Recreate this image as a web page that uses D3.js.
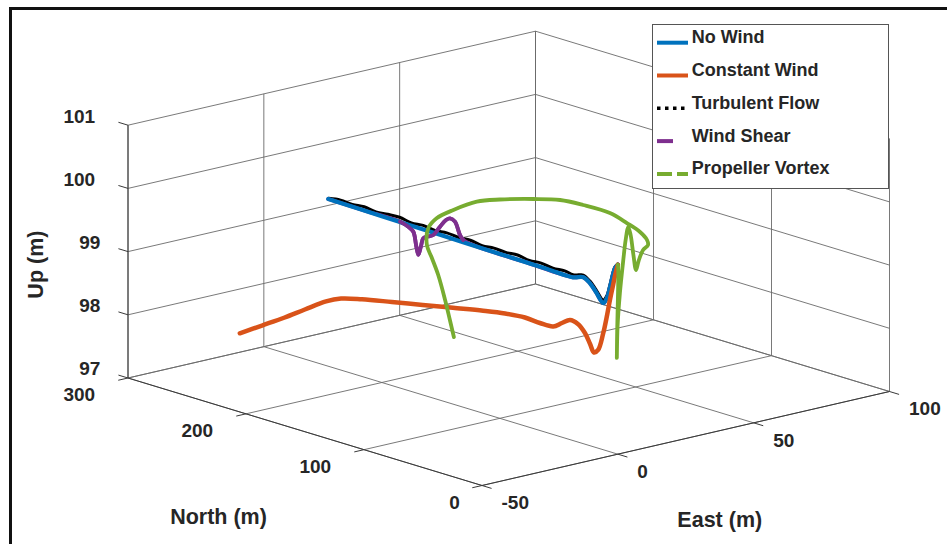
<!DOCTYPE html>
<html>
<head>
<meta charset="utf-8">
<script src="https://cdn.jsdelivr.net/npm/d3@7"></script>
<style>
  html, body { margin: 0; padding: 0; background: #fff; }
  svg { display: block; }
  text { font-family: "Liberation Sans", Arial, Helvetica, sans-serif; font-weight: bold; fill: #262626; }
</style>
</head>
<body>
<svg id="chart" width="947" height="544"></svg>
<script>
// Axis ticks
const eastTicks = [-50, 0, 50, 100];
const northTicks = [0, 100, 200, 300];
const upTicks = [97, 98, 99, 100, 101];

const seriesNames = ["No Wind", "Constant Wind", "Turbulent Flow", "Wind Shear", "Propeller Vortex"];

// No Wind trajectory (m)
const noWindN = [245.4, 200, 150, 100, 60, 38, 29.3, 23.6, 18.5, 12.3, 9.2, 6.6, 2.4, 0];
const noWindE = [0, 0, 0, 0, 0, 0, 0, 0, 0, 0, 0, 0, 0, 0];
const noWindU = [99.646, 99.632, 99.617, 99.602, 99.590, 99.583, 99.633, 99.570, 99.460, 99.320, 99.420, 99.610, 99.930, 100.0];

// Constant Wind trajectory (m)
const constN = [244.6, 230.2, 215.9, 202.4, 188.8, 179.1, 165.5, 146.1, 126.2, 106.6, 87.2, 73.0, 60.1, 50.4, 41.9, 36.1, 30.9, 25.8, 21.2, 18.0, 15.4, 12.8, 9.4, 7.0, 5.1, 3.1, 1.8, 0];
const constE = [-32.9, -31.0, -29.1, -27.3, -25.4, -24.1, -22.3, -19.7, -17.0, -14.4, -11.7, -9.8, -8.1, -6.8, -5.6, -4.9, -4.2, -3.5, -2.9, -2.4, -2.1, -1.7, -1.3, -0.9, -0.7, -0.4, -0.2, 0];
const constU = [97.852, 98.038, 98.223, 98.412, 98.599, 98.685, 98.733, 98.775, 98.815, 98.854, 98.891, 98.909, 98.902, 98.857, 98.838, 98.919, 98.989, 98.948, 98.825, 98.665, 98.542, 98.593, 98.872, 99.172, 99.417, 99.663, 99.827, 100.0];

// Turbulent Flow trajectory (m)
const turbN = [245, 235, 225, 215, 205, 195, 185, 175, 165, 155, 145, 135, 125, 115, 105, 95, 85, 75, 65, 55, 45, 38, 33, 29.3, 23.6, 18.5, 12.3, 9.2, 6.6, 2.4, 0];
const turbE = [0, 0, 0, 0, 0, 0, 0, 0, 0, 0, 0, 0, 0, 0, 0, 0, 0, 0, 0, 0, 0, 0, 0, 0, 0, 0, 0, 0, 0, 0, 0];
const turbU = [99.660, 99.688, 99.675, 99.695, 99.672, 99.690, 99.700, 99.668, 99.684, 99.660, 99.679, 99.664, 99.676, 99.648, 99.665, 99.654, 99.670, 99.640, 99.655, 99.632, 99.645, 99.625, 99.650, 99.668, 99.605, 99.500, 99.370, 99.460, 99.650, 99.950, 100.0];

// Wind Shear trajectory (m)
const shearN = [245.4, 215, 184.6, 177.6, 173.3, 171.0, 169.1, 166.8, 164.9, 160.9, 156.4, 150.7, 145.6, 142.2, 138.0, 133.8, 131.0, 120, 80, 38, 29.3, 23.6, 18.5, 12.3, 9.2, 6.6, 2.4, 0];
const shearE = [0, 0, 0, 0, 0, 0, 0, 0, 0, 0, 0, 0, 0, 0, 0, 0, 0, 0, 0, 0, 0, 0, 0, 0, 0, 0, 0, 0];
const shearU = [99.646, 99.637, 99.632, 99.592, 99.537, 99.340, 99.193, 99.348, 99.481, 99.532, 99.581, 99.745, 99.880, 99.926, 99.896, 99.710, 99.646, 99.608, 99.596, 99.583, 99.633, 99.570, 99.460, 99.320, 99.420, 99.610, 99.930, 100.0];

// Propeller Vortex trajectory (m)
const vortexN = [150, 149, 148, 146, 144, 142, 139, 134, 126, 114, 102, 85, 71, 58, 44, 34, 27, 22, 20, 18, 16.5, 15, 13.5, 11.5, 10.5, 9.5, 8.5, 7, 6, 5, 4, 2.5, 1, 0];
const vortexE = [4.8, 2.9, 0.7, -2.7, -5.9, -8.6, -9.4, -8.5, -5.8, -2.4, 0.9, 5.7, 9.6, 12.4, 16.2, 18.1, 19.9, 20.3, 19.8, 17.1, 14.8, 13.2, 11.6, 9.7, 8.4, 7.0, 5.7, 3.8, 2.5, 1.8, 1.5, 1.1, 0.6, 0];
const vortexU = [97.955, 98.249, 98.594, 99.034, 99.346, 99.590, 99.879, 100.056, 100.207, 100.372, 100.442, 100.499, 100.524, 100.491, 100.405, 100.285, 100.165, 100.063, 100.000, 99.959, 99.816, 99.698, 99.960, 100.307, 100.451, 100.266, 99.967, 99.472, 98.953, 98.476, 98.927, 99.414, 99.871, 100.0];

const colors = {
  blue: "#0072BD", orange: "#D95319", black: "#000000", purple: "#7E2F8E", green: "#77AC30"
};

const svg = d3.select("#chart");

// Frame around the figure
svg.append("path")
  .attr("d", "M10.5,544 L10.5,8.5 L947,8.5")
  .attr("fill", "none").attr("stroke", "#111").attr("stroke-width", 3);

// Normalised axis scales
const sE = d3.scaleLinear().domain([-50, 100]).range([0, 1]);
const sN = d3.scaleLinear().domain([0, 300]).range([0, 1]);
const sU = d3.scaleLinear().domain([97, 101]).range([0, 1]);

// Orthographic projection of the plot box (East, North, Up)
const origin = [482, 485.5];
const eVec = [407.5, -94];
const nVec = [-354, -107.5];
const uVec = [0, -252.8];
function proj(E, N, U) {
  const e = sE(E), n = sN(N), u = sU(U);
  return [origin[0] + e * eVec[0] + n * nVec[0] + u * uVec[0],
          origin[1] + e * eVec[1] + n * nVec[1] + u * uVec[1]];
}
function unit(v) { const l = Math.hypot(v[0], v[1]); return [v[0] / l, v[1] / l]; }

const [eMin, eMax] = sE.domain();
const [nMin, nMax] = sN.domain();
const [uMin, uMax] = sU.domain();

// Grid lines on the back walls and the floor
const gridSegs = [];
eastTicks.forEach(E => {
  gridSegs.push([proj(E, nMax, uMin), proj(E, nMax, uMax)]);
  gridSegs.push([proj(E, nMin, uMin), proj(E, nMax, uMin)]);
});
northTicks.forEach(N => {
  gridSegs.push([proj(eMax, N, uMin), proj(eMax, N, uMax)]);
  gridSegs.push([proj(eMin, N, uMin), proj(eMax, N, uMin)]);
});
upTicks.forEach(U => {
  gridSegs.push([proj(eMin, nMax, U), proj(eMax, nMax, U)]);
  gridSegs.push([proj(eMax, nMin, U), proj(eMax, nMax, U)]);
});
svg.append("g").selectAll("line").data(gridSegs).join("line")
  .attr("x1", d => d[0][0]).attr("y1", d => d[0][1])
  .attr("x2", d => d[1][0]).attr("y2", d => d[1][1])
  .attr("stroke", "#6a6a6a").attr("stroke-width", 0.9);

// Axis lines
const axisSegs = [
  [proj(eMin, nMin, uMin), proj(eMax, nMin, uMin)],
  [proj(eMin, nMin, uMin), proj(eMin, nMax, uMin)],
  [proj(eMin, nMax, uMin), proj(eMin, nMax, uMax)]
];
svg.append("g").selectAll("line").data(axisSegs).join("line")
  .attr("x1", d => d[0][0]).attr("y1", d => d[0][1])
  .attr("x2", d => d[1][0]).attr("y2", d => d[1][1])
  .attr("stroke", "#3a3a3a").attr("stroke-width", 1);

// Tick marks
const tickLen = 10;
const nDir = unit(nVec), eDir = unit(eVec);
const tickSegs = [];
upTicks.forEach(U => { const p = proj(eMin, nMax, U); tickSegs.push([p, [p[0] + nDir[0] * tickLen, p[1] + nDir[1] * tickLen]]); });
northTicks.forEach(N => { const p = proj(eMin, N, uMin); tickSegs.push([p, [p[0] - eDir[0] * tickLen, p[1] - eDir[1] * tickLen]]); });
eastTicks.forEach(E => { const p = proj(E, nMin, uMin); tickSegs.push([p, [p[0] - nDir[0] * tickLen, p[1] - nDir[1] * tickLen]]); });
svg.append("g").selectAll("line").data(tickSegs).join("line")
  .attr("x1", d => d[0][0]).attr("y1", d => d[0][1])
  .attr("x2", d => d[1][0]).attr("y2", d => d[1][1])
  .attr("stroke", "#3a3a3a").attr("stroke-width", 1);

// Tick labels
const tickFont = 19;
const tickG = svg.append("g").style("font-size", tickFont + "px");
function leftLabel(txt, p, dy) {
  const t = tickG.append("text").text(txt).attr("text-anchor", "middle").attr("dy", "0.36em");
  const w = t.node().getComputedTextLength();
  t.attr("x", p[0] - 17 - w).attr("y", p[1] + dy);
}
upTicks.forEach(U => leftLabel(String(U), proj(eMin, nMax, U), -9.5));
northTicks.forEach(N => leftLabel(String(N), proj(eMin, N, uMin), 16.5));
eastTicks.forEach(E => {
  const p = proj(E, nMin, uMin);
  tickG.append("text").text(String(E)).attr("text-anchor", "start")
    .attr("x", p[0] + 19.5).attr("y", p[1] + 17).attr("dy", "0.36em");
});

// Axis titles
const labelG = svg.append("g").style("font-size", "21.5px");
const nMid = proj(eMin, (nMin + nMax) / 2, uMin);
labelG.append("text").text("North (m)").attr("text-anchor", "middle")
  .attr("x", nMid[0] - 86.5).attr("y", nMid[1] + 85).attr("dy", "0.36em");
const eMid = proj((eMin + eMax) / 2, nMin, uMin);
labelG.append("text").text("East (m)").attr("text-anchor", "middle")
  .attr("x", eMid[0] + 34).attr("y", eMid[1] + 80.5).attr("dy", "0.36em");
const uMid = proj(eMin, nMax, (uMin + uMax) / 2);
labelG.append("text").text("Up (m)").attr("text-anchor", "middle")
  .attr("transform", `translate(${uMid[0] - 93},${uMid[1] + 13}) rotate(-90)`)
  .attr("dy", "0.36em");

// Trajectories
const zip3 = (N, E, U) => N.map((n, i) => ({ N: n, E: E[i], U: U[i] }));
const line = d3.line().x(d => proj(d.E, d.N, d.U)[0]).y(d => proj(d.E, d.N, d.U)[1])
  .curve(d3.curveCatmullRom.alpha(0.5));

const traj = svg.append("g").attr("fill", "none").attr("stroke-linejoin", "round").attr("stroke-linecap", "round");
const noWind = zip3(noWindN, noWindE, noWindU);
const constant = zip3(constN, constE, constU);
const turbulent = zip3(turbN, turbE, turbU);
const shear = zip3(shearN, shearE, shearU);
const vortex = zip3(vortexN, vortexE, vortexU);

traj.append("path").attr("d", line(turbulent)).attr("stroke", colors.black).attr("stroke-width", 3);
traj.append("path").attr("d", line(shear)).attr("stroke", colors.purple).attr("stroke-width", 3.8);
traj.append("path").attr("d", line(noWind)).attr("stroke", colors.blue).attr("stroke-width", 4.2);
// the shear oscillation sits in front of the no-wind path
traj.append("path").attr("d", line(shear.slice(2, 17))).attr("stroke", colors.purple).attr("stroke-width", 3.8);
traj.append("path").attr("d", line(constant)).attr("stroke", colors.orange).attr("stroke-width", 4.5);
traj.append("path").attr("d", line(vortex)).attr("stroke", colors.green).attr("stroke-width", 3.8);

// Legend
const legend = svg.append("g");
legend.append("rect").attr("x", 652.5).attr("y", 24.5).attr("width", 236).attr("height", 164)
  .attr("fill", "#fff").attr("stroke", "#555").attr("stroke-width", 1);
const legendStyles = [
  { color: colors.blue, dash: null, x2: 688, w: 4 },
  { color: colors.orange, dash: null, x2: 688, w: 4 },
  { color: colors.black, dash: "3.5,4.5", x2: 688, w: 3.5 },
  { color: colors.purple, dash: null, x2: 673, w: 4 },
  { color: colors.green, dash: "15,5", x2: 688, w: 4 }
];
seriesNames.forEach((name, i) => {
  const base = 43.2 + i * 32.8;
  const s = legendStyles[i];
  legend.append("line").attr("x1", 657).attr("x2", s.x2).attr("y1", base - 0.5).attr("y2", base - 0.5)
    .attr("stroke", s.color).attr("stroke-width", s.w).attr("stroke-dasharray", s.dash);
  legend.append("text").text(name).attr("x", 691.7).attr("y", base).style("font-size", "18px");
});
</script>
</body>
</html>
